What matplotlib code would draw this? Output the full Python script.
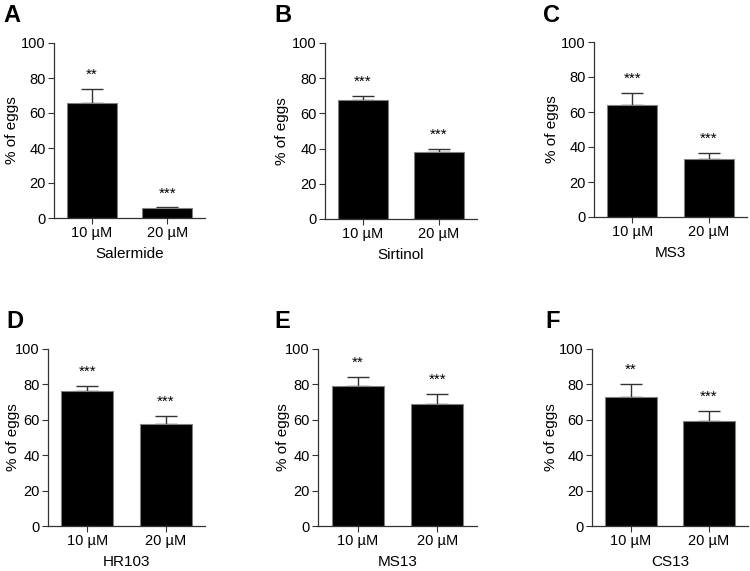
import numpy as np
import matplotlib
matplotlib.use("Agg")
from matplotlib import pyplot as plt

plt.rcParams['font.family'] = ['Liberation Sans', 'DejaVu Sans']

letters = ['A', 'B', 'C', 'D', 'E', 'F']
compounds = ['Salermide', 'Sirtinol', 'MS3', 'HR103', 'MS13', 'CS13']
doses = ['10 µM', '20 µM']
means = [[66.0, 5.5], [67.5, 38.3], [63.8, 33.0], [76.4, 57.9], [79.2, 68.7], [72.8, 59.2]]
errs = [[7.9, 0.6], [2.3, 1.6], [7.0, 3.6], [2.8, 4.2], [5.2, 5.7], [7.3, 5.9]]
stars = [['**', '***'], ['***', '***'], ['***', '***'],
         ['***', '***'], ['**', '***'], ['**', '***']]

W, H = 750, 571
fig = plt.figure(figsize=(W / 100, H / 100), dpi=100)

# axes boxes in pixels: left, right, top, bottom
boxes = [(54, 205, 43, 218), (325, 477, 43, 219), (594, 747, 42, 217),
         (48, 205, 349, 526), (318, 477, 349, 526), (592, 748, 349, 526)]
letter_pos = [(3, 22), (274, 22), (543, 22), (6, 328), (274, 328), (545, 328)]
ylab_x = [12, 282, 552, 13, 283, 551]

for i in range(6):
    l, r, t, b = boxes[i]
    ax = fig.add_axes([l / W, 1 - b / H, (r - l) / W, (b - t) / H])
    x = np.arange(2)
    ax.bar(x, means[i], width=0.66, color='black', edgecolor='#808080', linewidth=0.8, zorder=2)
    ax.errorbar(x, means[i], yerr=[[0, 0], errs[i]], fmt='none', ecolor='#333333',
                elinewidth=1, capsize=8, capthick=1, zorder=1)
    for j in range(2):
        top = means[i][j] + errs[i][j]
        ax.text(x[j], top + 4, stars[i][j], ha='center', va='bottom', fontsize=11)
    ax.set_xlim(-0.5, 1.5)
    ax.set_ylim(0, 100)
    ax.set_yticks([0, 20, 40, 60, 80, 100])
    ax.set_xticks(x)
    ax.set_xticklabels(doses)
    ax.tick_params(labelsize=10.5, color='#333333', length=4, width=0.8, pad=2)
    ax.spines['top'].set_visible(False)
    ax.spines['right'].set_visible(False)
    for s in ['left', 'bottom']:
        ax.spines[s].set_color('#333333')
        ax.spines[s].set_linewidth(0.9)
    ax.set_ylabel('% of eggs', fontsize=11)
    ax.yaxis.label.set_verticalalignment('center')
    ax.yaxis.set_label_coords((ylab_x[i] - l) / (r - l), 0.5)
    ax.set_xlabel(compounds[i], fontsize=11, labelpad=5)
    fig.text(letter_pos[i][0] / W, 1 - letter_pos[i][1] / H, letters[i],
             fontsize=17, fontweight='bold', ha='left', va='baseline')

fig.savefig('out.png', dpi=100)
